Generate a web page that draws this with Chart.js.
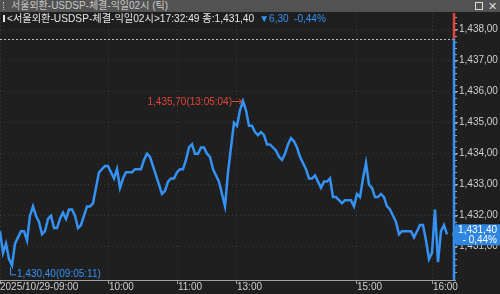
<!DOCTYPE html>
<html>
<head>
<meta charset="utf-8">
<script src="https://cdn.jsdelivr.net/npm/chart.js@4"></script>
<style>
html, body { margin: 0; padding: 0; background: #1f1f1f; }
#wrap { position: relative; width: 500px; height: 294px; }
#bar { position: absolute; left: 0; top: 0; width: 500px; height: 12px; background: #525252;
  color: #c8c8c8; font: 10px "Liberation Sans", "Noto Sans CJK KR", sans-serif; line-height: 12px; z-index: 2; }
#bar .grip { position: absolute; left: 3px; top: 2px; width: 1px; height: 8px; border-left: 1px dotted #bbb; }
#bar .ttl { position: absolute; left: 11px; top: 0; }
#bar .box { position: absolute; left: 475px; top: 2px; width: 6px; height: 6px; border: 1px solid #ddd; }
#bar .x { position: absolute; left: 488px; top: 0; color: #ddd; font-size: 11px; }
canvas { position: absolute; left: 0; top: 0; }
</style>
</head>
<body>
<div id="wrap">
  <div id="bar"><span class="grip"></span><span class="ttl">서울외환-USDSP-체결-익일02시 (틱)</span><span class="box"></span><span class="x">✕</span></div>
  <canvas id="tickChart" width="500" height="294"></canvas>
</div>
<script>
// tick chart: one value per sampled tick
const prices = [
    1431.5, 1430.8, 1431.1, 1430.6, 1430.4, 1431.1, 1431.3, 1431.5, 1431.5, 1431.2,
    1432.0, 1432.3, 1432.0, 1431.8, 1431.4, 1431.5, 1431.9, 1432.0, 1431.6, 1431.6,
    1431.9, 1432.1, 1431.9, 1432.2, 1432.2, 1432.0, 1431.6, 1431.7, 1432.0, 1432.3,
    1432.3, 1432.4, 1432.9, 1433.4, 1433.5, 1433.6, 1433.6, 1433.4, 1433.2, 1433.5,
    1432.9, 1433.2, 1433.4, 1433.4, 1433.4, 1433.5, 1433.5, 1433.5, 1433.8, 1434.0,
    1433.9, 1433.6, 1433.3, 1433.0, 1432.7, 1432.8, 1433.1, 1433.2, 1433.2, 1433.4,
    1433.5, 1433.5, 1433.8, 1434.2, 1434.3, 1434.0, 1434.0, 1434.2, 1434.2, 1434.0,
    1433.9, 1433.5, 1433.3, 1433.1, 1432.7, 1432.3, 1433.4, 1434.2, 1435.0, 1434.9,
    1435.4, 1435.7, 1435.4, 1434.9, 1434.9, 1434.7, 1434.6, 1434.7, 1434.6, 1434.3,
    1434.3, 1434.2, 1434.1, 1433.9, 1433.8, 1434.0, 1434.3, 1434.5, 1434.4, 1434.2,
    1433.9, 1433.7, 1433.5, 1433.2, 1433.2, 1433.3, 1433.1, 1432.9, 1433.1, 1433.1,
    1433.2, 1432.6, 1432.6, 1432.5, 1432.4, 1432.5, 1432.5, 1432.5, 1432.3, 1432.7,
    1432.6, 1433.2, 1433.7, 1433.0, 1432.9, 1432.6, 1432.6, 1432.7, 1432.6, 1432.3,
    1432.2, 1432.0, 1431.8, 1431.4, 1431.5, 1431.5, 1431.5, 1431.5, 1431.3, 1431.5,
    1431.7, 1431.7, 1431.2, 1430.6, 1430.8, 1432.2, 1430.5, 1431.5, 1431.7, 1431.4
];
// time labels sit at tick numbers, not at even time steps
const timeTickPos = [0, 36.3, 59.3, 79, 119, 144.3];
const timeTickLabels = ['2025/10/29-09:00', '10:00', '11:00', '13:00', '15:00', '16:00'];
const priceTicks = [1431, 1432, 1433, 1434, 1435, 1436, 1437, 1438];

const titleName = '서울외환-USDSP-체결-익일02시';
const lastTime = '17:32:49';
const lastPrice = 1431.40;
const prevClose = 1437.70;
const changeAbs = 6.30;
const changePct = -0.44;
const highTime = '13:05:04';
const lowTime = '09:05:11';

const BLUE = '#3592f5';
const RED = '#e0463a';
const FONT = '"Liberation Sans", "Noto Sans CJK KR", sans-serif';

function fmt(v) {
    const [a, b] = Math.abs(v).toFixed(2).split('.');
    return a.replace(/\B(?=(\d{3})+(?!\d))/g, ',') + ',' + b;
}

const overlay = {
    id: 'overlay',
    beforeDatasetsDraw(chart) {
        const {ctx, chartArea: ca, scales: {y}} = chart;
        const yp = Math.round(y.getPixelForValue(prevClose)) + 0.5;
        ctx.save();
        ctx.strokeStyle = '#bdbdbd';
        ctx.lineWidth = 1;
        ctx.setLineDash([2, 2]);
        ctx.beginPath();
        ctx.moveTo(ca.left, yp);
        ctx.lineTo(ca.right - 2, yp);
        ctx.stroke();
        ctx.restore();
    },
    afterDraw(chart) {
        const {ctx, chartArea: ca, scales: {x, y}} = chart;
        ctx.save();

        // info line
        ctx.font = '10.2px ' + FONT;
        ctx.textBaseline = 'middle';
        ctx.fillStyle = '#e6e6e6';
        ctx.fillRect(3, 15, 2, 7);
        const info = '<' + titleName + '>' + lastTime + ' 종:' + fmt(lastPrice);
        ctx.textAlign = 'left';
        ctx.fillText(info, 7, 19);
        const w = ctx.measureText(info).width;
        ctx.font = '10px ' + FONT;
        ctx.fillStyle = BLUE;
        ctx.fillText('▼' + fmt(changeAbs) + '  -' + fmt(changePct) + '%', 7 + w + 5, 19);

        // price bar at right edge
        const yp = y.getPixelForValue(prevClose);
        ctx.lineWidth = 2.5;
        ctx.strokeStyle = RED;
        ctx.beginPath();
        ctx.moveTo(ca.right - 1, ca.top - 1);
        ctx.lineTo(ca.right - 1, yp);
        ctx.stroke();
        ctx.strokeStyle = BLUE;
        ctx.beginPath();
        ctx.moveTo(ca.right - 1, yp);
        ctx.lineTo(ca.right - 1, ca.bottom);
        ctx.stroke();

        // minor ticks on price axis
        ctx.lineWidth = 1;
        ctx.strokeStyle = '#9a9a9a';
        for (let v = 1430.2; v < 1438.5; v += 0.2) {
            const py = Math.round(y.getPixelForValue(v)) + 0.5;
            if (py < ca.top || py > ca.bottom) continue;
            ctx.beginPath();
            ctx.moveTo(ca.right, py);
            ctx.lineTo(ca.right + 2, py);
            ctx.stroke();
        }

        // high / low marks
        const hi = prices.indexOf(Math.max(...prices));
        const lo = prices.indexOf(Math.min(...prices));
        const hx = x.getPixelForValue(hi), hy = y.getPixelForValue(prices[hi]);
        ctx.fillStyle = RED;
        ctx.strokeStyle = RED;
        ctx.textAlign = 'right';
        ctx.fillText(fmt(prices[hi]) + '(' + highTime + ')', hx - 11, hy + 1);
        ctx.beginPath();
        ctx.moveTo(hx - 11, hy + 0.5);
        ctx.lineTo(hx - 1, hy + 0.5);
        ctx.moveTo(hx - 4, hy - 2);
        ctx.lineTo(hx - 1, hy + 0.5);
        ctx.lineTo(hx - 4, hy + 3);
        ctx.stroke();

        const lx = x.getPixelForValue(lo), ly = y.getPixelForValue(prices[lo]);
        ctx.fillStyle = BLUE;
        ctx.strokeStyle = BLUE;
        ctx.beginPath();
        ctx.moveTo(lx - 1.5, ly + 2);
        ctx.lineTo(lx - 1.5, ly + 9.5);
        ctx.lineTo(lx + 4, ly + 9.5);
        ctx.stroke();
        ctx.textAlign = 'left';
        ctx.fillText(fmt(prices[lo]) + '(' + lowTime + ')', lx + 5, ly + 9);

        // current price tag
        const cy = y.getPixelForValue(lastPrice);
        ctx.fillStyle = '#2f86e0';
        ctx.beginPath();
        ctx.moveTo(ca.right - 3, cy);
        ctx.lineTo(ca.right + 1, cy - 10);
        ctx.lineTo(500, cy - 10);
        ctx.lineTo(500, cy + 11);
        ctx.lineTo(ca.right + 1, cy + 11);
        ctx.closePath();
        ctx.fill();
        ctx.fillStyle = '#ffffff';
        ctx.textAlign = 'right';
        ctx.fillText(fmt(lastPrice), 497, cy - 4.5);
        ctx.fillText('- ' + fmt(changePct) + '%', 497, cy + 6);
        ctx.restore();
    }
};

new Chart(
    document.getElementById('tickChart'),
    {
        type: 'line',
        data: {
            datasets: [
                {
                    data: prices.map((v, i) => ({x: i, y: v})),
                    borderColor: BLUE,
                    borderWidth: 2.5,
                    pointRadius: 0,
                    tension: 0,
                },
            ]
        },
        options: {
            responsive: false,
            animation: false,
            events: [],
            layout: {padding: {top: 14, left: 0, right: 0, bottom: 0}},
            plugins: {legend: {display: false}, tooltip: {enabled: false}},
            scales: {
                x: {
                    type: 'linear',
                    min: 0,
                    max: 151.67,
                    afterBuildTicks: (scale) => { scale.ticks = timeTickPos.map(v => ({value: v})); },
                    afterFit: (scale) => { scale.height = 14; },
                    ticks: {
                        callback: (v, i) => timeTickLabels[i],
                        align: 'start',
                        autoSkip: false,
                        maxRotation: 0,
                        padding: -3,
                        color: '#cfcfcf',
                        font: {family: FONT, size: 10},
                    },
                    grid: {color: '#3b3b3b', tickColor: '#a0a0a0', tickLength: 4, tickBorderDash: []},
                    border: {display: true, color: '#a0a0a0', width: 1, dash: [1, 3]},
                },
                y: {
                    position: 'right',
                    min: 1429.926,
                    max: 1438.506,
                    afterBuildTicks: (scale) => { scale.ticks = priceTicks.map(v => ({value: v})); },
                    afterFit: (scale) => { scale.width = 45; },
                    ticks: {
                        callback: (v) => fmt(v),
                        padding: 1,
                        color: '#cfcfcf',
                        font: {family: FONT, size: 10},
                    },
                    grid: {color: '#3b3b3b', tickColor: '#a0a0a0', tickLength: 3, tickBorderDash: []},
                    border: {display: false, dash: [1, 3]},
                }
            }
        },
        plugins: [overlay]
    }
);
</script>
</body>
</html>
